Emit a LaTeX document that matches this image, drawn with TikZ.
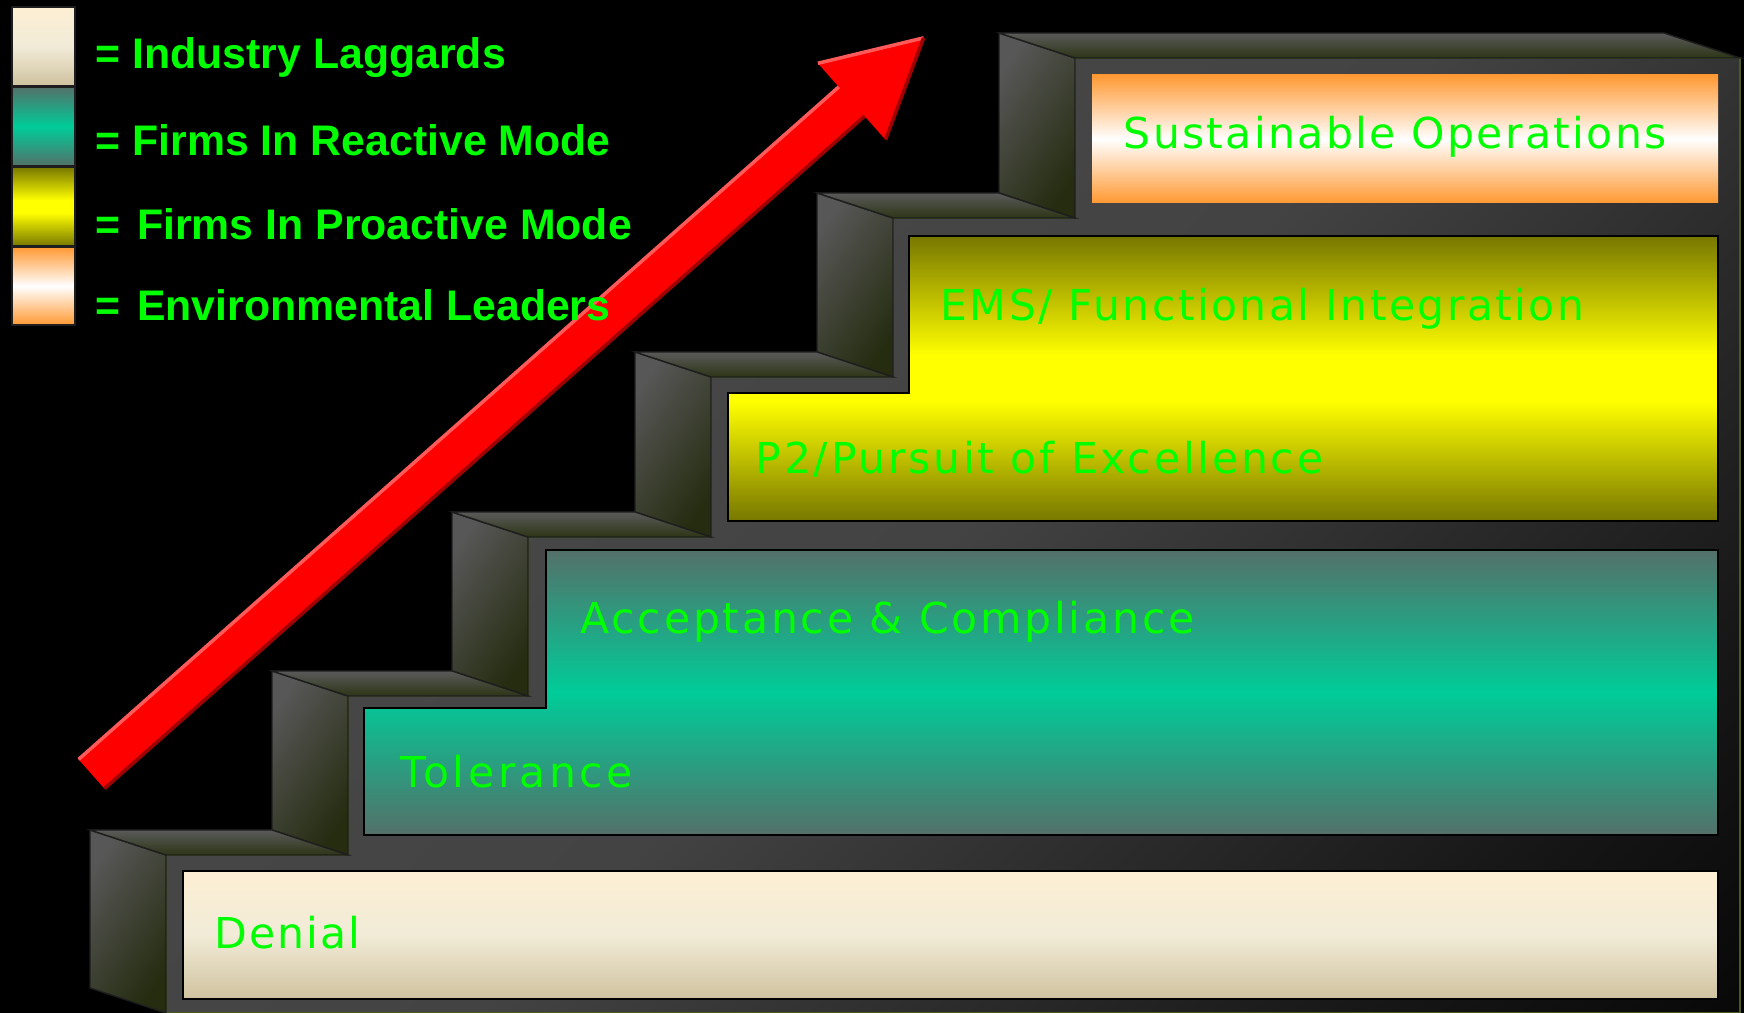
\documentclass[tikz,border=0pt]{standalone}
\usepackage{fontspec}
\newfontfamily\stepfont{DejaVu Sans}
\newfontfamily\keyfont{Liberation Sans}

\definecolor{labelgreen}{HTML}{00FF00}
\definecolor{creamtop}{HTML}{FDEFD4}
\definecolor{creammid}{HTML}{F1EBD7}
\definecolor{creambot}{HTML}{D0C29F}
\definecolor{tealedge}{HTML}{547069}
\definecolor{tealmid}{HTML}{00CC99}
\definecolor{oliveedge}{HTML}{777700}
\definecolor{yellowmid}{HTML}{FFFF00}
\definecolor{orangeedge}{HTML}{FF9933}
\definecolor{riserlight}{HTML}{575757}
\definecolor{riserdark}{HTML}{252C10}
\definecolor{treadlight}{HTML}{5A5A5A}
\definecolor{treaddark}{HTML}{2D3516}
\definecolor{stepedge}{HTML}{1E1E1E}
\definecolor{frontedge}{HTML}{4B5A1E}
\definecolor{frontlight}{HTML}{4C4C4C}
\definecolor{frontgrey}{HTML}{434343}
\definecolor{frontmid}{HTML}{151515}
\definecolor{frontdark}{HTML}{090909}
\definecolor{arrowlight}{HTML}{FF5A5A}
\definecolor{arrowdark}{HTML}{A00000}

\pgfdeclareverticalshading{stairfront}{100bp}{color(0bp)=(frontdark); color(15bp)=(frontdark); color(24bp)=(frontmid); color(50bp)=(frontgrey); color(86bp)=(frontlight); color(100bp)=(frontlight)}
\pgfdeclareverticalshading{proactivefill}{100bp}{color(0bp)=(oliveedge); color(25bp)=(oliveedge); color(46bp)=(yellowmid); color(54bp)=(yellowmid); color(75bp)=(oliveedge); color(100bp)=(oliveedge)}

\tikzset{
  steplabel/.style={anchor=base west, inner sep=0pt, text=labelgreen,
    font=\stepfont\addfontfeatures{LetterSpace=#1}\fontsize{12.1}{14}\selectfont},
  steplabel/.default=6.5,
  keylabel/.style={anchor=base west, inner sep=0pt, text=labelgreen,
    font=\keyfont\bfseries\fontsize{12.17}{14}\selectfont},
  riser/.style={top color=riserlight, bottom color=riserdark, shading angle=55,
    draw=stepedge, line width=0.4pt},
  tread/.style={top color=treadlight, bottom color=treaddark,
    draw=stepedge, line width=0.4pt},
  laggard/.style={top color=creamtop, bottom color=creambot, middle color=creammid},
  reactive/.style={top color=tealedge, bottom color=tealedge, middle color=tealmid},
  proactive/.style={shading=proactivefill},
  leader/.style={top color=orangeedge, bottom color=orangeedge, middle color=white},
  panelline/.style={draw=black, line width=0.5pt}
}

\begin{document}
\begin{tikzpicture}[x=0.01cm, y=-0.01cm]
  \useasboundingbox (0,0) rectangle (1744,1013);
  \fill[black] (0,0) rectangle (1744,1013);

  % front of the staircase
  \shade[shading=stairfront, shading angle=45, draw=frontedge, line width=0.6pt]
    (166,1013) -- (166,855) -- (348,855) -- (348,696) -- (528,696) -- (528,537)
    -- (711,537) -- (711,377) -- (893,377) -- (893,218) -- (1075,218) -- (1075,58)
    -- (1740,58) -- (1740,1013) -- cycle;

  % risers
  \shade[riser] (90,830) -- (166,855) -- (166,1013) -- (90,988) -- cycle;
  \shade[riser] (272,671) -- (348,696) -- (348,855) -- (272,830) -- cycle;
  \shade[riser] (452,512) -- (528,537) -- (528,696) -- (452,671) -- cycle;
  \shade[riser] (635,352) -- (711,377) -- (711,537) -- (635,512) -- cycle;
  \shade[riser] (817,193) -- (893,218) -- (893,377) -- (817,352) -- cycle;
  \shade[riser] (999,33) -- (1075,58) -- (1075,218) -- (999,193) -- cycle;

  % treads
  \shade[tread] (90,830) -- (272,830) -- (348,855) -- (166,855) -- cycle;
  \shade[tread] (272,671) -- (452,671) -- (528,696) -- (348,696) -- cycle;
  \shade[tread] (452,512) -- (635,512) -- (711,537) -- (528,537) -- cycle;
  \shade[tread] (635,352) -- (817,352) -- (893,377) -- (711,377) -- cycle;
  \shade[tread] (817,193) -- (999,193) -- (1075,218) -- (893,218) -- cycle;
  \shade[tread] (999,33) -- (1664,33) -- (1740,58) -- (1075,58) -- cycle;

  % panels
  \shade[laggard, panelline] (183,871) rectangle (1718,999);
  \shade[reactive, panelline] (364,835) -- (364,708) -- (546,708) -- (546,550)
    -- (1718,550) -- (1718,835) -- cycle;
  \shade[proactive, panelline] (728,521) -- (728,393) -- (909,393) -- (909,236)
    -- (1718,236) -- (1718,521) -- cycle;
  \shade[leader] (1092,75) rectangle (1718,203);

  \node[steplabel=4.5] (denial) at (214,949) {Denial};
  \node[steplabel=8.6] (tolerance) at (400,788) {Tolerance};
  \node[steplabel] (acceptance) at (580,634) {Acceptance \& Compliance};
  \node[steplabel] (pursuit) at (755,474) {P2/Pursuit of Excellence};
  \node[steplabel=5.7] (ems) at (940,321) {EMS/ Functional Integration};
  \node[steplabel=5.5] (sustainable) at (1123,149) {Sustainable Operations};

  % arrow
  \fill[red] (78.6,759.4) -- (838.8,86.9) -- (817.9,63.3) -- (923.6,37.9)
    -- (885.5,139.7) -- (864.6,116.1) -- (104.4,788.6) -- cycle;
  \draw[arrowlight, line width=1pt] (78.6,759.4) -- (838.8,86.9);
  \draw[arrowlight, line width=1pt] (817.9,63.3) -- (923.6,37.9);
  \draw[arrowdark, line width=1pt] (104.4,788.6) -- (864.6,116.1);
  \draw[arrowdark, line width=1pt] (923.6,37.9) -- (885.5,139.7);

  % key
  \shade[laggard, draw=stepedge] (12,7) rectangle (75,86);
  \shade[reactive, draw=stepedge] (12,87) rectangle (75,166);
  \shade[proactive, draw=stepedge] (12,167) rectangle (75,246);
  \shade[leader, draw=stepedge] (12,247) rectangle (75,325);

  \node[keylabel] (laggards) at (95,68.5) {= Industry Laggards};
  \node[keylabel] (reactivemode) at (95,155.5) {= Firms In Reactive Mode};
  \node[keylabel] (proactivemode) at (95,239.5) {=\hspace{1.3pt} Firms In Proactive Mode};
  \node[keylabel] (leaders) at (95,320.5) {=\hspace{1.3pt} Environmental Leaders};
\end{tikzpicture}
\end{document}
